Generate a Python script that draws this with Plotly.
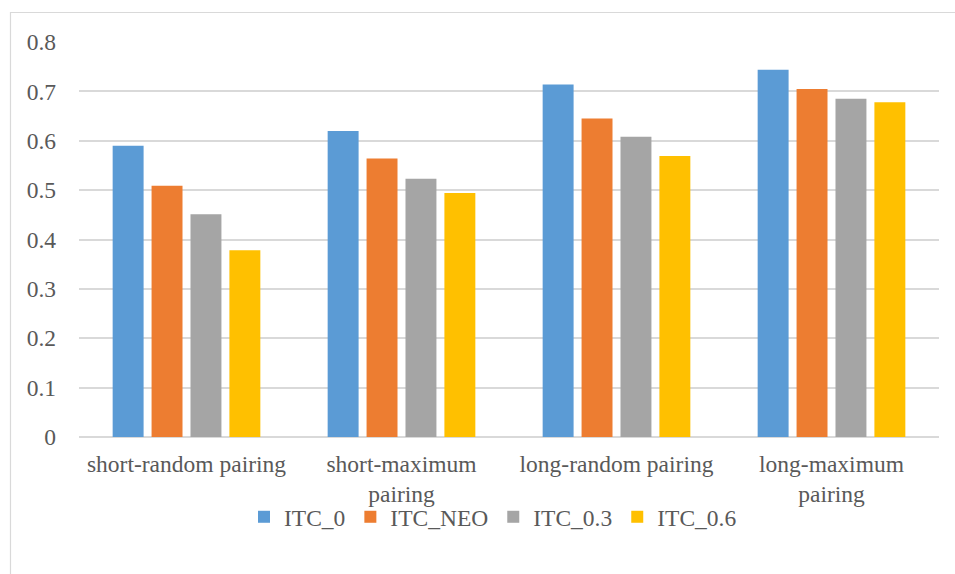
import plotly.graph_objects as go

categories = ["short-random pairing", "short-maximum<br>pairing",
              "long-random pairing", "long-maximum<br>pairing"]
series_names = ["ITC_0", "ITC_NEO", "ITC_0.3", "ITC_0.6"]
itc_0 = [0.590, 0.620, 0.714, 0.744]
itc_neo = [0.509, 0.564, 0.645, 0.705]
itc_03 = [0.451, 0.523, 0.608, 0.685]
itc_06 = [0.378, 0.494, 0.569, 0.678]
colors = ["#5B9BD5", "#ED7D31", "#A5A5A5", "#FFC000"]
y_ticks = [0, 0.1, 0.2, 0.3, 0.4, 0.5, 0.6, 0.7, 0.8]
y_tick_labels = ["0", "0.1", "0.2", "0.3", "0.4", "0.5", "0.6", "0.7", "0.8"]

W, H = 955, 574
ML, MR, MT, MB = 79, 16, 42, 137
pw, ph = W - ML - MR, H - MT - MB
FS = 23.5

fig = go.Figure()
for name, vals, col in zip(series_names, [itc_0, itc_neo, itc_03, itc_06], colors):
    fig.add_trace(go.Bar(x=categories, y=vals, name=name,
                         marker=dict(color=col, line=dict(width=0))))

font_family = "Liberation Serif"
fig.update_layout(
    width=W, height=H,
    margin=dict(l=ML, r=MR, t=MT, b=MB, pad=0),
    paper_bgcolor="white", plot_bgcolor="white",
    barmode="group", bargap=0.276, bargroupgap=0.205,
    font=dict(family=font_family, size=FS, color="#595959"),
    xaxis=dict(showgrid=False, showline=False, ticks="", tickfont=dict(size=FS),
               zeroline=False, ticklabelstandoff=10),
    yaxis=dict(range=[0, 0.8], tickvals=y_ticks, ticktext=y_tick_labels,
               showgrid=True, gridcolor="#D9D9D9", gridwidth=1.5,
               zeroline=True, zerolinecolor="#D9D9D9", zerolinewidth=1.5,
               showline=False, ticks="", ticklabelstandoff=22,
               tickfont=dict(size=FS)),
    legend=dict(orientation="h", x=0.5 - 16 / pw, xanchor="center",
                y=(H - MB - 517) / ph, yanchor="middle",
                bgcolor="rgba(0,0,0,0)",
                font=dict(size=FS, color="#595959"), itemwidth=30,
                traceorder="normal"),
    shapes=[dict(type="rect", xref="paper", yref="paper",
                 x0=(10.5 - ML) / pw, x1=(W + 10 - ML) / pw,
                 y0=(H - MB - (H + 10)) / ph, y1=(H - MB - 12.5) / ph,
                 line=dict(color="#D9D9D9", width=1.2), fillcolor="rgba(0,0,0,0)",
                 layer="below")],
)

fig.write_html("out.html")
